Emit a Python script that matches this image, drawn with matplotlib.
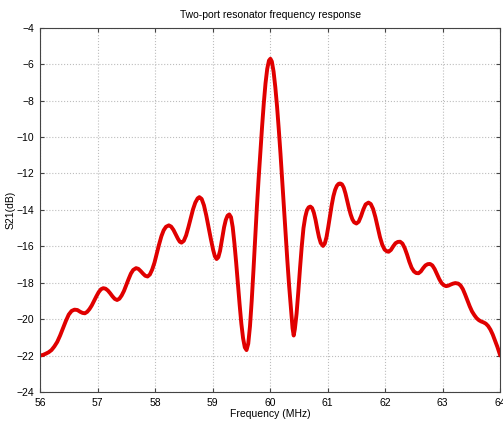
import numpy as np
from matplotlib import pyplot as plt

plt.rcParams['font.family'] = ['Liberation Sans', 'DejaVu Sans']

# values (MHz, dB)
freq = [56.00, 56.05, 56.10, 56.15, 56.20, 56.25, 56.30, 56.35, 56.40, 56.45, 56.50, 56.55, 56.60,
        56.65, 56.70, 56.74, 56.78,
        56.82, 56.86, 56.90, 56.94, 56.98, 57.02, 57.06, 57.10,
        57.14, 57.18, 57.22, 57.26, 57.30, 57.34,
        57.38, 57.42, 57.46, 57.50, 57.54, 57.58, 57.62, 57.67,
        57.71, 57.75, 57.79, 57.83, 57.87,
        57.91, 57.95, 57.99, 58.03, 58.07, 58.11, 58.15, 58.19, 58.24,
        58.28, 58.32, 58.36, 58.40, 58.43, 58.46,
        58.50, 58.54, 58.58, 58.62, 58.66, 58.70, 58.74, 58.77,
        58.81, 58.85, 58.89, 58.93, 58.97, 59.01, 59.04, 59.07,
        59.10, 59.13, 59.16, 59.20, 59.23, 59.26, 59.29,
        59.32, 59.35, 59.38, 59.41, 59.44, 59.47, 59.50, 59.53, 59.56, 59.59,
        59.62, 59.65, 59.68, 59.71, 59.74, 59.77, 59.80, 59.83, 59.86, 59.89, 59.92, 59.95, 59.98, 60.005,
        60.03, 60.06, 60.09, 60.12, 60.15, 60.18, 60.21, 60.24, 60.27, 60.30, 60.33, 60.36, 60.39, 60.41,
        60.43, 60.46, 60.49, 60.52, 60.55, 60.58, 60.61, 60.64, 60.67, 60.70,
        60.73, 60.76, 60.79, 60.82, 60.85, 60.88, 60.92,
        60.95, 60.98, 61.01, 61.04, 61.07, 61.10, 61.13, 61.16, 61.19, 61.22,
        61.25, 61.28, 61.31, 61.34, 61.37, 61.40, 61.43, 61.46, 61.50,
        61.54, 61.58, 61.62, 61.66, 61.71,
        61.75, 61.79, 61.83, 61.87, 61.91, 61.95, 61.99, 62.03, 62.06,
        62.10, 62.14, 62.18, 62.22, 62.26,
        62.30, 62.34, 62.38, 62.42, 62.46, 62.50, 62.54, 62.58,
        62.62, 62.66, 62.70, 62.74, 62.78,
        62.82, 62.86, 62.90, 62.94, 62.98, 63.02, 63.06, 63.10,
        63.14, 63.18, 63.22, 63.27,
        63.31, 63.35, 63.39, 63.43, 63.47, 63.51, 63.55, 63.59, 63.63, 63.67, 63.71, 63.75,
        63.79, 63.83, 63.87, 63.91, 63.95, 64.00]
s21 = [-22.00, -21.97, -21.90, -21.82, -21.70, -21.50, -21.25, -20.90, -20.50, -20.10, -19.75, -19.55, -19.48,
       -19.50, -19.60, -19.66, -19.68,
       -19.60, -19.45, -19.25, -19.00, -18.75, -18.52, -18.36, -18.30,
       -18.33, -18.43, -18.58, -18.75, -18.89, -18.95,
       -18.88, -18.70, -18.45, -18.12, -17.80, -17.50, -17.30, -17.20,
       -17.24, -17.36, -17.50, -17.62, -17.66,
       -17.55, -17.28, -16.90, -16.40, -15.90, -15.45, -15.12, -14.93, -14.85,
       -14.92, -15.10, -15.35, -15.60, -15.75, -15.80,
       -15.70, -15.40, -14.95, -14.45, -13.97, -13.60, -13.37, -13.30,
       -13.40, -13.75, -14.30, -14.95, -15.60, -16.20, -16.55, -16.70,
       -16.60, -16.25, -15.70, -14.95, -14.55, -14.32, -14.25,
       -14.40, -14.95, -15.85, -16.90, -18.05, -19.20, -20.25, -21.05, -21.55, -21.70,
       -21.35, -20.40, -19.00, -17.35, -15.55, -13.85, -12.30, -10.85, -9.45, -8.15, -7.05, -6.25, -5.80, -5.70,
       -5.85, -6.40, -7.25, -8.30, -9.55, -10.90, -12.35, -13.85, -15.35, -16.80, -18.15, -19.35, -20.50, -20.90,
       -20.55, -19.70, -18.50, -17.20, -16.00, -15.00, -14.40, -14.02, -13.86, -13.82,
       -13.90, -14.15, -14.55, -15.05, -15.50, -15.82, -15.98,
       -15.85, -15.50, -14.95, -14.35, -13.75, -13.25, -12.90, -12.68, -12.57, -12.55,
       -12.60, -12.78, -13.10, -13.50, -13.90, -14.25, -14.52, -14.68, -14.75,
       -14.65, -14.35, -13.98, -13.70, -13.60,
       -13.68, -13.95, -14.40, -14.95, -15.50, -15.92, -16.18, -16.28, -16.30,
       -16.20, -16.00, -15.83, -15.76, -15.75,
       -15.85, -16.10, -16.45, -16.85, -17.18, -17.38, -17.47, -17.48,
       -17.38, -17.20, -17.05, -16.98, -16.97,
       -17.05, -17.25, -17.52, -17.80, -18.02, -18.14, -18.19, -18.16,
       -18.10, -18.05, -18.02, -18.05,
       -18.15, -18.35, -18.65, -18.98, -19.30, -19.58, -19.78, -19.95, -20.06, -20.13, -20.18, -20.25,
       -20.38, -20.58, -20.85, -21.18, -21.52, -22.00]

xticks = [56, 57, 58, 59, 60, 61, 62, 63, 64]
yticks = [-24, -22, -20, -18, -16, -14, -12, -10, -8, -6, -4]

fig = plt.figure(figsize=(5.03, 4.21), dpi=100)
ax = fig.add_axes([0.0795, 0.069, 0.915, 0.865])

ax.plot(freq, s21, color='#e00000', linewidth=2.8,
        solid_joinstyle='round', solid_capstyle='round')

ax.set_xlim(56, 64)
ax.set_ylim(-24, -4)
ax.set_xticks(xticks)
ax.set_yticks(yticks)
ax.grid(True, linestyle=':', color='#bdbdbd', linewidth=0.8)
ax.tick_params(direction='in', top=True, right=True, labelsize=7.5,
               length=3, color='#444444', pad=4)
for sp in ax.spines.values():
    sp.set_color('#444444')

ax.set_title('Two-port resonator frequency response', fontsize=7.5, pad=7)
ax.set_xlabel('Frequency (MHz)', fontsize=7.5, labelpad=1)
ax.set_ylabel('S21(dB)', fontsize=7.5, labelpad=1)

plt.savefig('out.png', dpi=100)
